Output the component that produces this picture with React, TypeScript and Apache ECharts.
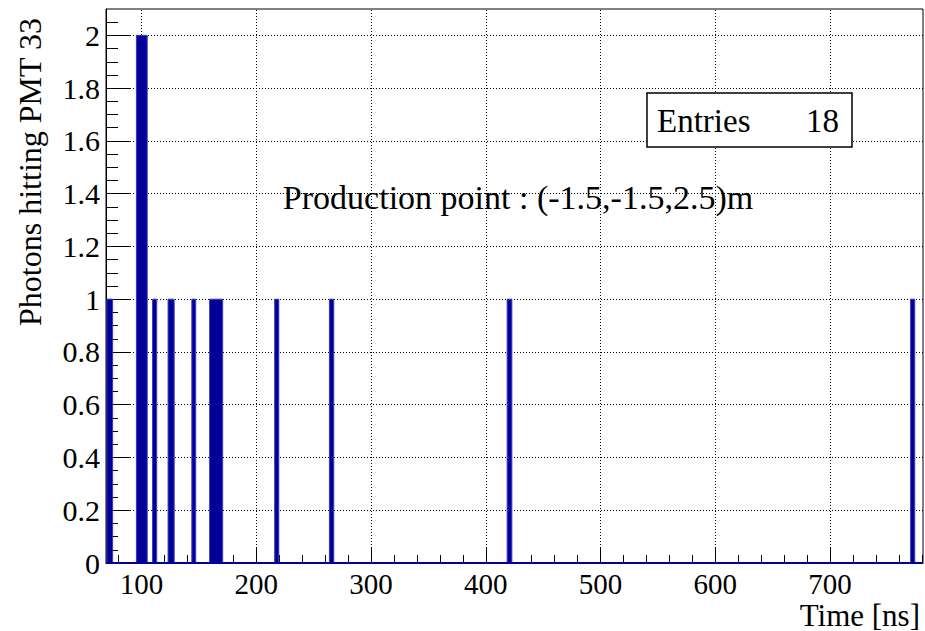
import React, { useEffect, useRef } from "react";
import * as echarts from "echarts";

// ---- data ----
const xLimits = [69, 781];
const yLimits = [0, 2.1];

// histogram bins (lower edge, upper edge, content) in ns
const binLow = [69.8, 95.5, 109.6, 123.1, 143.8, 159.3, 216.0, 263.7, 418.6, 770.2];
const binHigh = [74.8, 104.9, 113.2, 128.4, 147.2, 170.7, 219.6, 267.5, 422.7, 773.8];
const binCount = [1, 2, 1, 1, 1, 1, 1, 1, 1, 1];

const xMajorTicks = [100, 200, 300, 400, 500, 600, 700];
const xMinorTicks = [
  80, 120, 140, 160, 180, 220, 240, 260, 280, 320, 340, 360, 380, 420, 440, 460, 480,
  520, 540, 560, 580, 620, 640, 660, 680, 720, 740, 760, 780,
];
const yMajorTicks = [0, 0.2, 0.4, 0.6, 0.8, 1, 1.2, 1.4, 1.6, 1.8, 2];
const yMinorTicks = [
  0.05, 0.1, 0.15, 0.25, 0.3, 0.35, 0.45, 0.5, 0.55, 0.65, 0.7, 0.75, 0.85, 0.9, 0.95,
  1.05, 1.1, 1.15, 1.25, 1.3, 1.35, 1.45, 1.5, 1.55, 1.65, 1.7, 1.75, 1.85, 1.9, 1.95, 2.05,
];

const xTitle = "Time [ns]";
const yTitle = "Photons hitting PMT 33";
const noteText = "Production point : (-1.5,-1.5,2.5)m";
const statsLabel = "Entries";
const statsValue = "18";

const SERIF = "Liberation Serif";
const NAVY = "#000099";

export default function App() {
  const ref = useRef<HTMLDivElement>(null);

  useEffect(() => {
    if (!ref.current) return;
    const chart = echarts.init(ref.current, undefined, { renderer: "svg" });

    const binData = binLow.map((lo, i) => [lo, binHigh[i], binCount[i]]);

    const dotted = { color: "#000", width: 1, type: [1, 2] as number[] };

    const option: any = {
      animation: false,
      backgroundColor: "#fff",
      textStyle: { fontFamily: SERIF },
      grid: {
        left: 106,
        right: 2,
        top: 9,
        bottom: 68,
        show: true,
        borderColor: "#000",
        borderWidth: 1,
        backgroundColor: "transparent",
      },
      xAxis: [
        {
          type: "value",
          min: xLimits[0],
          max: xLimits[1],
          position: "bottom",
          axisLine: { show: true, onZero: false, lineStyle: { color: "#000", width: 1 } },
          axisTick: {
            show: true,
            inside: true,
            length: 16,
            customValues: xMajorTicks,
            lineStyle: { color: "#000", width: 1 },
          },
          axisLabel: {
            customValues: xMajorTicks,
            color: "#000",
            fontFamily: SERIF,
            fontSize: 29,
            lineHeight: 26,
            margin: 8,
          },
          splitLine: { show: false },
        },
        {
          type: "value",
          min: xLimits[0],
          max: xLimits[1],
          position: "bottom",
          axisLine: { show: false, onZero: false },
          axisTick: {
            show: true,
            inside: true,
            length: 8,
            customValues: xMinorTicks,
            lineStyle: { color: "#000", width: 1 },
          },
          axisLabel: { show: false },
          splitLine: { show: false },
        },
      ],
      yAxis: [
        {
          type: "value",
          min: yLimits[0],
          max: yLimits[1],
          interval: 0.2,
          position: "left",
          axisLine: { show: true, onZero: false, lineStyle: { color: "#000", width: 1 } },
          axisTick: {
            show: true,
            inside: true,
            length: 25,
            customValues: yMajorTicks,
            lineStyle: { color: "#000", width: 1 },
          },
          axisLabel: {
            customValues: yMajorTicks,
            color: "#000",
            fontFamily: SERIF,
            fontSize: 30,
            margin: 6,
            formatter: (v: number) => String(Number(v.toFixed(2))),
          },
          splitLine: { show: true, lineStyle: dotted },
        },
        {
          type: "value",
          min: yLimits[0],
          max: yLimits[1],
          position: "left",
          axisLine: { show: false, onZero: false },
          axisTick: {
            show: true,
            inside: true,
            length: 12,
            customValues: yMinorTicks,
            lineStyle: { color: "#000", width: 1 },
          },
          axisLabel: { show: false },
          splitLine: { show: false },
        },
      ],
      series: [
        {
          type: "line",
          xAxisIndex: 0,
          yAxisIndex: 0,
          data: [
            [xLimits[0], 0],
            [xLimits[1], 0],
          ],
          symbol: "none",
          silent: true,
          z: 4,
          lineStyle: { color: NAVY, width: 2 },
          markLine: {
            silent: true,
            symbol: ["none", "none"],
            z: 1,
            label: { show: false },
            lineStyle: dotted,
            data: xMajorTicks.map((v) => ({ xAxis: v })),
          },
        },
        {
          type: "custom",
          xAxisIndex: 0,
          yAxisIndex: 0,
          z: 3,
          silent: true,
          data: binData,
          encode: { x: [0, 1], y: 2 },
          renderItem: (params: any, api: any) => {
            const p0 = api.coord([api.value(0), 0]);
            const p1 = api.coord([api.value(1), api.value(2)]);
            return {
              type: "rect",
              shape: {
                x: p0[0],
                y: p1[1],
                width: p1[0] - p0[0],
                height: p0[1] - p1[1],
              },
              style: { fill: NAVY, stroke: "#3a3ab8", lineWidth: 1 },
            };
          },
        },
      ],
      graphic: [
        {
          type: "text",
          x: 30,
          y: 18,
          rotation: Math.PI / 2,
          style: {
            text: yTitle,
            fontFamily: SERIF,
            fontSize: 32,
            fill: "#000",
            align: "right",
            verticalAlign: "middle",
          },
        },
        {
          type: "text",
          x: 920,
          y: 615,
          style: {
            text: xTitle,
            fontFamily: SERIF,
            fontSize: 31,
            fill: "#000",
            align: "right",
            verticalAlign: "middle",
          },
        },
        {
          type: "text",
          x: 518,
          y: 197,
          z: 10,
          style: {
            text: noteText,
            fontFamily: SERIF,
            fontSize: 34,
            fill: "#000",
            align: "center",
            verticalAlign: "middle",
          },
        },
        {
          type: "rect",
          z: 10,
          shape: { x: 647, y: 93, width: 205, height: 54 },
          style: { fill: "#fff", stroke: "#000", lineWidth: 1.5 },
        },
        {
          type: "text",
          x: 657,
          y: 121,
          z: 11,
          style: {
            text: statsLabel,
            fontFamily: SERIF,
            fontSize: 33,
            fill: "#000",
            align: "left",
            verticalAlign: "middle",
          },
        },
        {
          type: "text",
          x: 839,
          y: 121,
          z: 11,
          style: {
            text: statsValue,
            fontFamily: SERIF,
            fontSize: 33,
            fill: "#000",
            align: "right",
            verticalAlign: "middle",
          },
        },
      ],
    };

    chart.setOption(option);
    return () => chart.dispose();
  }, []);

  return (
    <div
      ref={ref}
      style={{ position: "fixed", left: 0, top: 0, width: 925, height: 631, background: "#fff" }}
    />
  );
}
